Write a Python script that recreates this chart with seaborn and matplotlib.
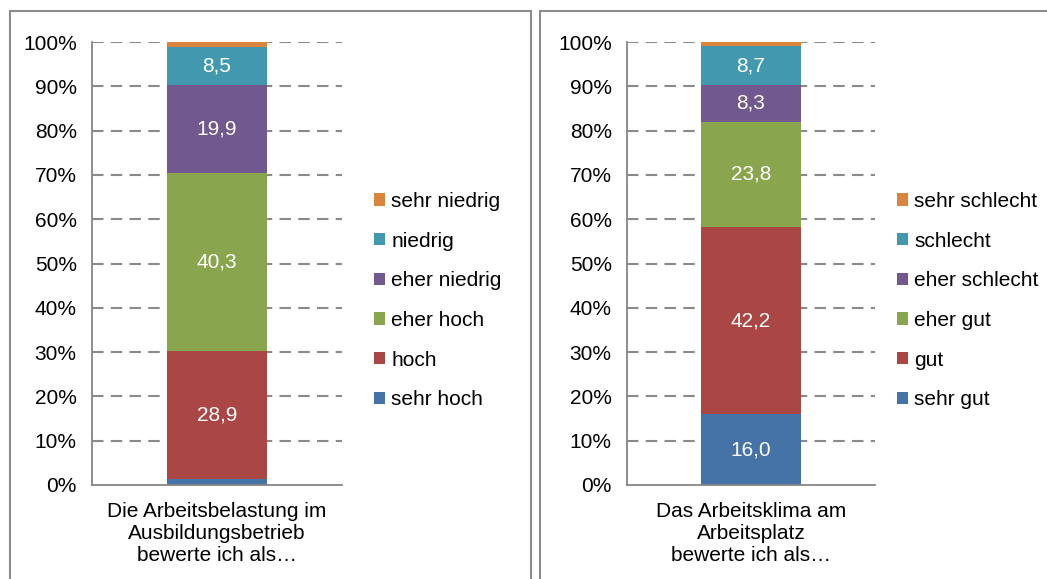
import matplotlib
matplotlib.use("Agg")
import matplotlib.pyplot as plt
import seaborn as sns
import numpy as np
import pandas as pd
from matplotlib.patches import Rectangle, Patch

# ---- data ----
left_category = "Die Arbeitsbelastung im\nAusbildungsbetrieb\nbewerte ich als…"
left_levels = ["sehr hoch", "hoch", "eher hoch", "eher niedrig", "niedrig", "sehr niedrig"]
left_values = [1.3, 28.9, 40.3, 19.9, 8.5, 1.1]
left_labels = ["", "28,9", "40,3", "19,9", "8,5", ""]

right_category = "Das Arbeitsklima am\nArbeitsplatz\nbewerte ich als…"
right_levels = ["sehr gut", "gut", "eher gut", "eher schlecht", "schlecht", "sehr schlecht"]
right_values = [16.0, 42.2, 23.8, 8.3, 8.7, 1.0]
right_labels = ["16,0", "42,2", "23,8", "8,3", "8,7", ""]

colors = ["#4572A7", "#AA4643", "#89A54E", "#71588F", "#4198AF", "#DB843D"]
y_ticks = [0, 10, 20, 30, 40, 50, 60, 70, 80, 90, 100]

sns.set_style("white")
plt.rcParams["font.family"] = ["Liberation Sans", "DejaVu Sans"]
plt.rcParams["text.color"] = "black"

W, H = 1047, 579
fig = plt.figure(figsize=(W / 100, H / 100), dpi=100)

def px_rect(x0, y0, x1, y1):
    return [x0 / W, 1 - y1 / H, (x1 - x0) / W, (y1 - y0) / H]

# panel frames
for (x0, y0, x1, y1) in [(10, 11, 531, 585), (540, 11, 1052, 585)]:
    fig.patches.append(Rectangle((x0 / W, 1 - y1 / H), (x1 - x0) / W, (y1 - y0) / H,
                                 transform=fig.transFigure, fill=False,
                                 edgecolor="#8c8c8c", linewidth=1.5, zorder=0))

FS = 15

def draw(axpos, category, levels, values, labels, legend_xy):
    ax = fig.add_axes(px_rect(*axpos))
    ax.set_facecolor("none")
    cum = np.cumsum(values)
    for i in range(len(values) - 1, -1, -1):
        df = pd.DataFrame({"cat": [category], "val": [cum[i]]})
        sns.barplot(data=df, x="cat", y="val", color=colors[i], width=0.4,
                    saturation=1, ax=ax, zorder=2, linewidth=0)
    bottoms = np.concatenate([[0], cum[:-1]])
    for b, v, t in zip(bottoms, values, labels):
        if t:
            ax.text(0, b + v / 2, t, ha="center", va="center", color="white",
                    fontsize=FS, zorder=3)
    ax.set_ylim(0, 100)
    ax.set_xlim(-0.5, 0.5)
    ax.set_yticks(y_ticks)
    ax.set_yticklabels([f"{t}%" for t in y_ticks], fontsize=FS, color="black")
    for t in y_ticks[1:]:
        ax.axhline(t, color="#8a8a8a", linestyle=(0, (5.5, 3.5)), linewidth=1.5, zorder=1)
    ax.set_xlabel("")
    ax.set_ylabel("")
    ax.set_xticks([0])
    ax.set_xticklabels([category], fontsize=FS, color="black", linespacing=1.2)
    ax.set_xticks([-0.5, 0.5], minor=True)
    ax.tick_params(axis="x", which="major", length=0, pad=12)
    ax.tick_params(axis="x", which="minor", length=5, color="#868686", width=1.3, direction="out")
    ax.tick_params(axis="y", length=5, color="#868686", width=1.3, direction="out", pad=6)
    for s in ["top", "right"]:
        ax.spines[s].set_visible(False)
    for s in ["left", "bottom"]:
        ax.spines[s].set_color("#868686")
        ax.spines[s].set_linewidth(1.3)
    handles = [Patch(facecolor=colors[i], edgecolor="none", label=levels[i])
               for i in range(len(levels) - 1, -1, -1)]
    leg = fig.legend(handles=handles, loc="upper left",
                     bbox_to_anchor=(legend_xy[0] / W, 1 - legend_xy[1] / H),
                     bbox_transform=fig.transFigure, frameon=False, fontsize=FS,
                     handlelength=0.53, handleheight=0.53, handletextpad=0.3,
                     labelspacing=0.99, borderpad=0, borderaxespad=0)
    for txt in leg.get_texts():
        txt.set_color("black")
    return ax

draw((92, 42, 342, 485), left_category, left_levels, left_values, left_labels, (374, 192))
draw((627, 42, 875, 485), right_category, right_levels, right_values, right_labels, (897, 192))

fig.savefig("out.png", dpi=100)
